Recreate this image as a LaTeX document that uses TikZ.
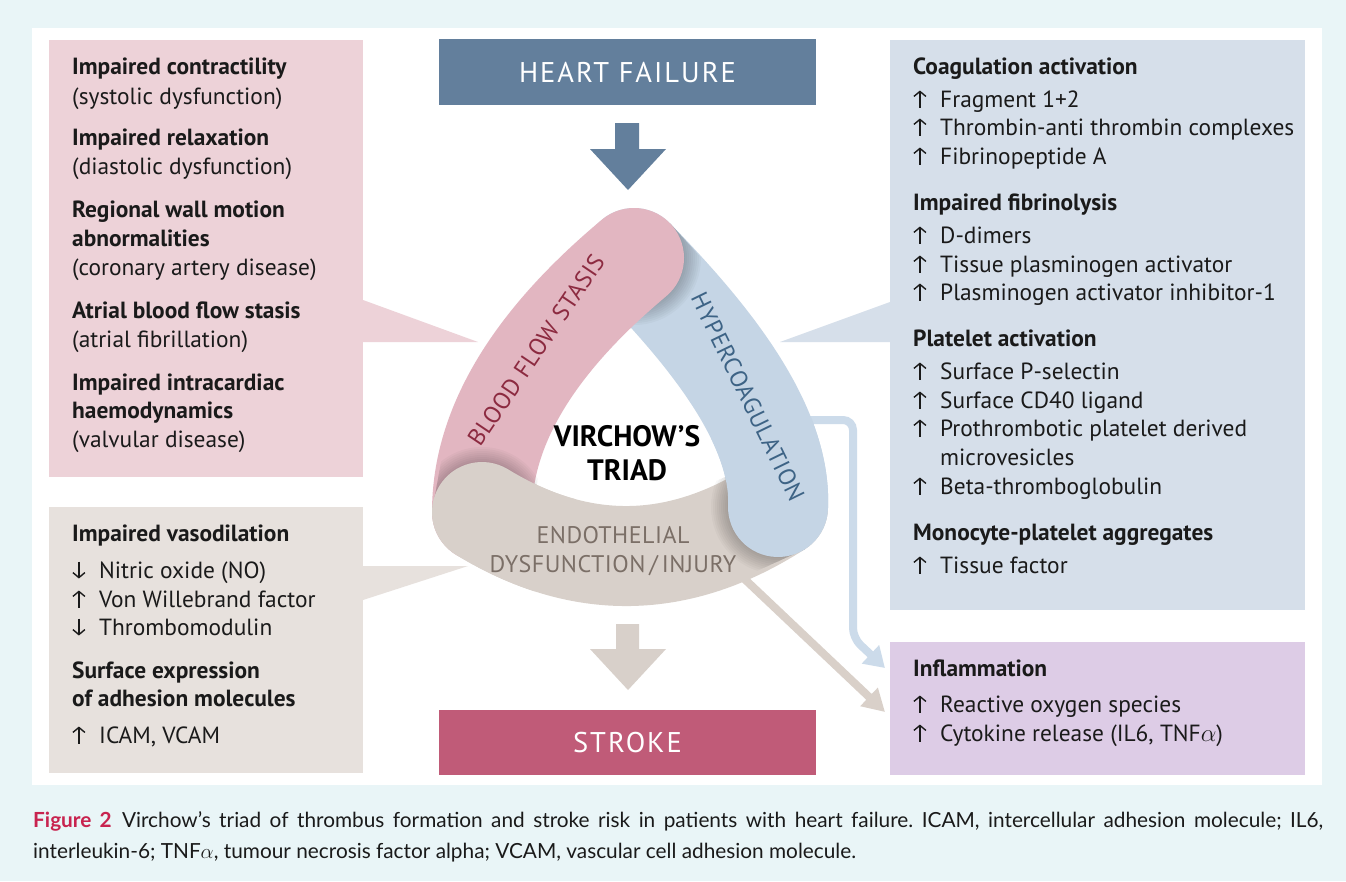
\documentclass[tikz,border=0pt]{standalone}
\usepackage{fontspec}
\setmainfont{PT Sans}
\newfontfamily\capfont{Lato}
\usetikzlibrary{arrows.meta}
\definecolor{bgc}{HTML}{E9F5F7}
\definecolor{pinkbox}{HTML}{EDD2D8}
\definecolor{graybox}{HTML}{E7E1DD}
\definecolor{bluebox}{HTML}{D6DFEA}
\definecolor{purplebox}{HTML}{DDCCE6}
\definecolor{hfc}{HTML}{637F9C}
\definecolor{strokec}{HTML}{C05B78}
\definecolor{pinkband}{HTML}{E2B6C1}
\definecolor{blueband}{HTML}{C5D5E5}
\definecolor{grayband}{HTML}{D8D0CA}
\definecolor{pinktxt}{HTML}{8C2A40}
\definecolor{bluetxt}{HTML}{3D6385}
\definecolor{graytxt}{HTML}{7B6F67}
\definecolor{bluecon}{HTML}{CCDBEA}
\definecolor{graycon}{HTML}{D9D0C9}
\definecolor{capred}{HTML}{C8234F}
\definecolor{txtc}{HTML}{1A1A1A}
\newcommand\upa{\makebox[27pt][l]{\tikz[x=1pt,y=1pt,baseline=0pt]\draw[txtc,line width=1.4pt,-{Straight Barb[length=5pt,width=12pt]}] (6,-0.5)--(6,16.5);}}
\newcommand\dna{\makebox[27pt][l]{\tikz[x=1pt,y=1pt,baseline=0pt]\draw[txtc,line width=1.4pt,-{Straight Barb[length=5pt,width=12pt]}] (6,16.5)--(6,-0.5);}}
\tikzset{
 box/.style={anchor=north west, inner sep=0pt, outer sep=0pt},
 body/.style={anchor=base west, inner sep=0pt, text=txtc, font=\fontsize{23.4}{27}\selectfont},
 head/.style={anchor=base west, inner sep=0pt, text=txtc, font=\fontsize{23.4}{27}\selectfont\bfseries},
 band/.style={line width=100pt, line cap=round},
 bandtxt/.style={font=\fontsize{24}{29}\selectfont\addfontfeatures{LetterSpace=2.5}, inner sep=0pt},
 title/.style={text=white, font=\fontsize{28.5}{30}\selectfont\addfontfeatures{LetterSpace=7}},
 shadowring/.style={black, opacity=0.026},
}
\begin{document}
\begin{tikzpicture}[x=1pt,y=-1pt]
\useasboundingbox (0,0) rectangle (1346,881);
\fill[bgc] (0,0) rectangle (1346,881);
\fill[white] (32,28) rectangle (1322,785);

% boxes
\node[box, fill=pinkbox, minimum width=314pt, minimum height=437pt] (lbox) at (49,40) {};
\node[box, fill=graybox, minimum width=314pt, minimum height=266pt] (gbox) at (49,507) {};
\node[box, fill=bluebox, minimum width=415pt, minimum height=570pt] (rbox) at (890,40) {};
\node[box, fill=purplebox, minimum width=415pt, minimum height=133pt] (ibox) at (890,642) {};
\node[box, fill=hfc, minimum width=377pt, minimum height=66pt] (hf) at (439,39) {};
\node[box, fill=strokec, minimum width=377pt, minimum height=65pt] (st) at (439,710) {};
\node[title] (hft) at (hf.center) {HEART FAILURE};
\node[title] (stt) at (st.center) {STROKE};

% block arrows
\fill[hfc] (615,123) -- (639,123) -- (639,149) -- (666,149) -- (628,190) -- (590,149) -- (615,149) -- cycle;
\fill[grayband] (616,624) -- (639,624) -- (639,649) -- (666,649) -- (628,690) -- (590,649) -- (616,649) -- cycle;

% wedges
\fill[pinkbox] (363,300) -- (478,342) -- (363,342) -- cycle;
\fill[graybox] (363,566) -- (468,566) -- (363,600) -- cycle;
\fill[bluebox] (890,302) -- (780,342) -- (890,342) -- cycle;

% connectors
\coordinate (bc0) at (790,420);
\coordinate (bc1) at (885,668);
\coordinate (gc0) at (735,570);
\coordinate (gc1) at (885,712);
\draw[bluecon, line width=8pt, rounded corners=10pt, -{Triangle[width=24pt,length=20pt]}] (bc0) -- (853,420) -- (853,638) -- (bc1);
\draw[graycon, line width=8pt, -{Triangle[width=24pt,length=22pt]}] (gc0) -- (gc1);

% triad bands
\draw[band, blueband] (634,258) .. controls (700,326) and (782,420) .. (778,507);
\draw[band, grayband] (778,507) .. controls (679.3,570.7) and (580.7,572.3) .. (482,512);
% shadow of pink cap on blue
\begin{scope}
\clip (669.9,223.2) -- (733.6,293.6) -- (656.4,357.2) -- (598.1,292.8) -- cycle;
\foreach \r in {51,53,...,67} \fill[shadowring] (634,258) circle (\r pt);
\end{scope}
\draw[band, pinkband] (482,512) .. controls (482,427.3) and (532.7,342.7) .. (634,258);
% shadow of gray cap on pink
\begin{scope}
\clip (432,512) -- (448.7,418.9) -- (542.7,452.7) -- (532,512) -- cycle;
\foreach \r in {51,53,...,65} \fill[shadowring] (482,512) circle (\r pt);
\end{scope}
\begin{scope}
\clip (482,512) circle (95pt);
\draw[band, grayband] (778,507) .. controls (679.3,570.7) and (580.7,572.3) .. (482,512);
\end{scope}
% shadow of blue cap on gray
\begin{scope}
\clip (750.9,465) -- (805.1,549) -- (702.3,595.9) -- (676.3,499.3) -- cycle;
\foreach \r in {51,53,...,67} \fill[shadowring] (778,507) circle (\r pt);
\end{scope}
\begin{scope}
\clip (778,507) circle (95pt);
\draw[band, blueband] (634,258) .. controls (700,326) and (782,420) .. (778,507);
\end{scope}

\node[bandtxt, text=pinktxt, rotate=56] (bfs) at (536,350) {BLOOD FLOW STASIS};
\node[bandtxt, text=bluetxt, rotate=-64] (hyp) at (748,397) {HYPERCOAGULATION};
\node[text=graytxt, align=center, inner sep=0pt, font=\fontsize{24}{29}\selectfont\addfontfeatures{LetterSpace=2}] (endo) at (613,551) {ENDOTHELIAL\\DYSFUNCTION\,/\,INJURY};
\node[font=\fontsize{29.5}{34}\selectfont\bfseries, align=center, inner sep=0pt] (vt) at (627,453) {VIRCHOW’S\\TRIAD};

% left pink text
\foreach \yy/\st/\tt [count=\i] in {
 74/head/Impaired contractility,
 104/body/(systolic dysfunction),
 145/head/Impaired relaxation,
 174/body/(diastolic dysfunction),
 217/head/Regional wall motion,
 246/head/abnormalities,
 275/body/(coronary artery disease),
 318/head/Atrial blood flow stasis,
 347/body/(atrial fibrillation),
 390/head/Impaired intracardiac,
 418/head/haemodynamics,
 447/body/(valvular disease)}
 \node[\st] (p\i) at (72,\yy) {\tt};

% left gray text
\foreach \yy/\st/\tt [count=\i] in {
 541/head/Impaired vasodilation,
 578/body/\dna Nitric oxide (NO),
 607/body/\upa Von Willebrand factor,
 635/body/\dna Thrombomodulin,
 678/head/Surface expression,
 706/head/of adhesion molecules,
 {743/body/\upa ICAM, VCAM}}
 \node[\st] (g\i) at (72,\yy) {\tt};

% right blue text
\foreach \yy/\st/\tt [count=\i] in {
 74/head/Coagulation activation,
 107/body/\upa Fragment 1+2,
 135/body/\upa Thrombin-anti thrombin complexes,
 164/body/\upa Fibrinopeptide A,
 210/head/Impaired fibrinolysis,
 243/body/\upa D-dimers,
 272/body/\upa Tissue plasminogen activator,
 300/body/\upa Plasminogen activator inhibitor-1,
 346/head/Platelet activation,
 379/body/\upa Surface P-selectin,
 408/body/\upa Surface CD40 ligand,
 436/body/\upa Prothrombotic platelet derived,
 465/body/\hspace*{27pt}microvesicles,
 494/body/\upa Beta-thromboglobulin,
 540/head/Monocyte-platelet aggregates,
 573/body/\upa Tissue factor}
 \node[\st] (r\i) at (913,\yy) {\tt};

% inflammation text
\node[head] (f1) at (913,676) {Inflammation};
\node[body] (f2) at (913,712) {\upa Reactive oxygen species};
\node[body] (f3) at (913,741) {\upa Cytokine release (IL6, TNF$\alpha$)};

% caption
\node[anchor=north west, text width=1290pt, align=justify, inner sep=0pt, text=txtc, font=\capfont\fontsize{20.8}{31}\selectfont\frenchspacing] (cap) at (33,811) {{\color{capred}\bfseries Figure 2}\enspace Virchow’s triad of thrombus formation and stroke risk in patients with heart failure. ICAM, intercellular adhesion molecule; IL6,\linebreak interleukin-6; TNF$\alpha$, tumour necrosis factor alpha; VCAM, vascular cell adhesion molecule.};
\end{tikzpicture}
\end{document}
